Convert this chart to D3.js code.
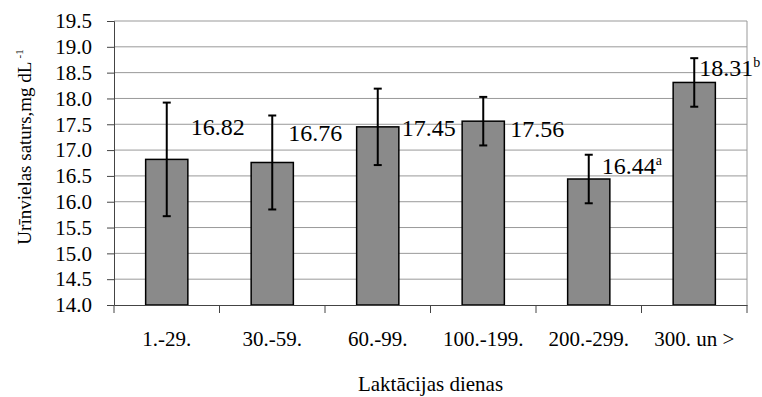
<!DOCTYPE html>
<html>
<head>
<meta charset="utf-8">
<script src="https://cdn.jsdelivr.net/npm/d3@7"></script>
<style>
  body { margin: 0; background: #fff; }
</style>
</head>
<body>
<div id="chart"></div>
<script>
// Data
const categories = ["1.-29.", "30.-59.", "60.-99.", "100.-199.", "200.-299.", "300. un >"];
const means = [16.82, 16.76, 17.45, 17.56, 16.44, 18.31];
const errors = [1.10, 0.91, 0.74, 0.47, 0.47, 0.47];
const marks = ["", "", "", "", "a", "b"];
const yTicks = [14.0, 14.5, 15.0, 15.5, 16.0, 16.5, 17.0, 17.5, 18.0, 18.5, 19.0, 19.5];

// label nudges (px) relative to band centre / bar top, as in the original layout
const labelNudge = [[24, -32], [16, -29], [24, 1], [27, 8], [13, -13], [5, -14]];

const FONT = "'Liberation Serif', 'Times New Roman', serif";
const width = 762, height = 397;
const margin = {top: 21, right: 15, bottom: 92, left: 114};

const svg = d3.select("#chart").append("svg")
    .attr("width", width)
    .attr("height", height);

const x = d3.scaleBand()
    .domain(categories)
    .range([margin.left, width - margin.right])
    .padding(0);

const y = d3.scaleLinear()
    .domain([14, 19.5])
    .range([height - margin.bottom, margin.top]);

const barW = x.bandwidth() * 0.4;

// gridlines
svg.append("g")
  .selectAll("line")
  .data(yTicks.slice(1))
  .join("line")
    .attr("x1", margin.left)
    .attr("x2", width - margin.right)
    .attr("y1", d => y(d))
    .attr("y2", d => y(d))
    .attr("stroke", "#999")
    .attr("stroke-width", 1);

// right border
svg.append("line")
    .attr("x1", width - margin.right).attr("x2", width - margin.right)
    .attr("y1", y(19.5)).attr("y2", y(14))
    .attr("stroke", "#999");

// bars
svg.append("g")
  .selectAll("rect")
  .data(means)
  .join("rect")
    .attr("x", (d, i) => x(categories[i]) + x.bandwidth() / 2 - barW / 2)
    .attr("y", d => y(d))
    .attr("width", barW)
    .attr("height", d => y(14) - y(d))
    .attr("fill", "#8a8a8a")
    .attr("stroke", "#000")
    .attr("stroke-width", 1.5);

// y axis
const yAxis = svg.append("g")
    .attr("transform", `translate(${margin.left},0)`)
    .call(d3.axisLeft(y).tickValues(yTicks).tickFormat(d3.format(".1f")).tickSize(7).tickPadding(15));
yAxis.select(".domain").attr("stroke", "#444");
yAxis.selectAll(".tick line").attr("stroke", "#444");
yAxis.selectAll("text").style("font-size", "21px").style("font-family", FONT).attr("fill", "#000");

// x axis
const xAxis = svg.append("g")
    .attr("transform", `translate(0,${y(14)})`)
    .call(d3.axisBottom(x).tickSize(0).tickPadding(26));
xAxis.select(".domain").attr("stroke", "#444");
xAxis.selectAll("text").style("font-size", "21px").style("font-family", FONT).attr("fill", "#000");
// category separators
xAxis.append("g")
  .selectAll("line")
  .data(categories.concat([null]))
  .join("line")
    .attr("x1", (d, i) => margin.left + i * x.bandwidth())
    .attr("x2", (d, i) => margin.left + i * x.bandwidth())
    .attr("y1", 0)
    .attr("y2", 8)
    .attr("stroke", "#444");

// error bars
const eb = svg.append("g").attr("stroke", "#000").attr("stroke-width", 2);
means.forEach((m, i) => {
  const cx = x(categories[i]) + x.bandwidth() / 2;
  eb.append("line").attr("x1", cx).attr("x2", cx).attr("y1", y(m + errors[i])).attr("y2", y(m - errors[i]));
  eb.append("line").attr("x1", cx - 4).attr("x2", cx + 4).attr("y1", y(m + errors[i])).attr("y2", y(m + errors[i]));
  eb.append("line").attr("x1", cx - 4).attr("x2", cx + 4).attr("y1", y(m - errors[i])).attr("y2", y(m - errors[i]));
});

// value labels
const labels = svg.append("g")
  .selectAll("text")
  .data(means)
  .join("text")
    .attr("x", (d, i) => x(categories[i]) + x.bandwidth() / 2 + labelNudge[i][0])
    .attr("y", (d, i) => y(d) + labelNudge[i][1] + 8)
    .style("font-family", FONT)
    .style("font-size", "24px");
labels.append("tspan").text(d => d.toFixed(2));
labels.append("tspan")
    .style("font-size", "14px")
    .attr("dy", -9)
    .text((d, i) => marks[i]);

// axis titles
svg.append("text")
    .attr("x", (margin.left + width - margin.right) / 2)
    .attr("y", 391)
    .attr("text-anchor", "middle")
    .style("font-family", FONT)
    .style("font-size", "21px")
    .text("Laktācijas dienas");

const yt = svg.append("text")
    .attr("transform", `translate(31,${147}) rotate(-90)`)
    .attr("text-anchor", "middle")
    .style("font-family", FONT)
    .style("font-size", "19px");
yt.append("tspan").text("Urīnvielas saturs,mg dL");
yt.append("tspan").style("font-size", "11px").attr("dy", -8).attr("dx", 3).text("-1");
</script>
</body>
</html>
